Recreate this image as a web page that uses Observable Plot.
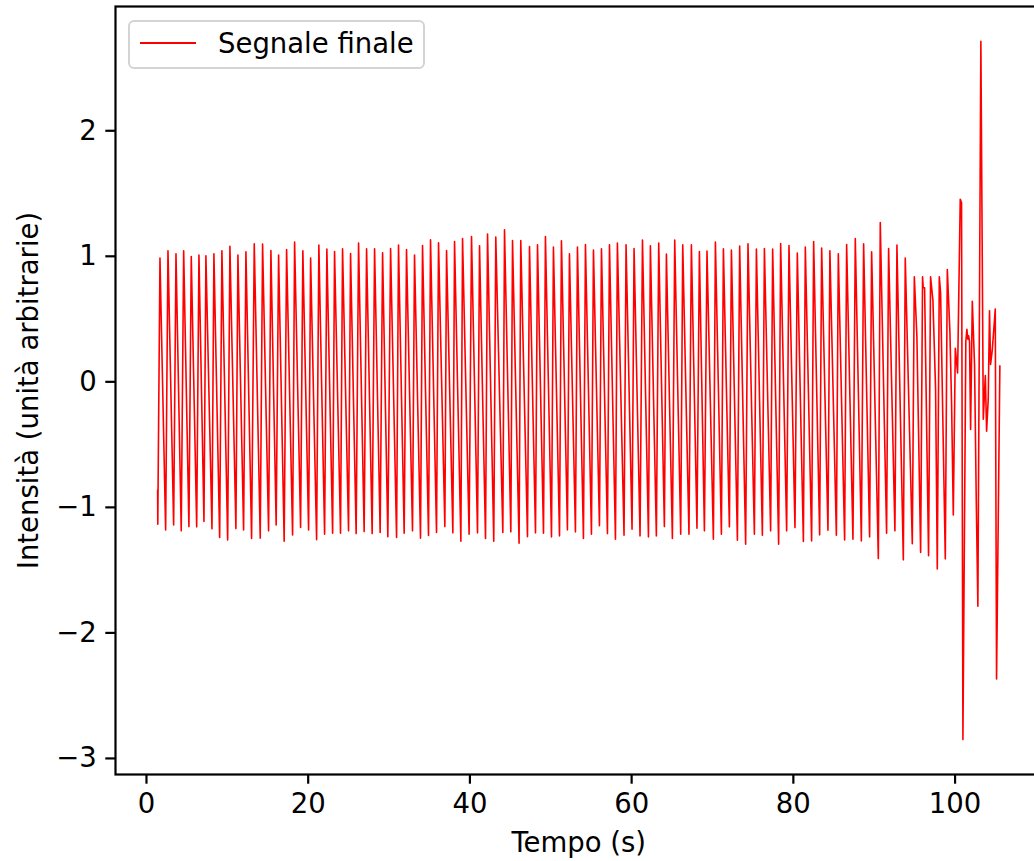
<!DOCTYPE html>
<html>
<head>
<meta charset="utf-8">
<script src="https://cdn.jsdelivr.net/npm/d3@7"></script>
<script src="https://cdn.jsdelivr.net/npm/@observablehq/plot@0.6"></script>
<style>
  html, body { margin: 0; padding: 0; background: white; overflow: hidden; }
  #wrap { position: relative; width: 1034px; height: 861px; }
  #legend {
    position: absolute; left: 128px; top: 20px; width: 293px; height: 45px;
    border: 2px solid #d4d4d4; border-radius: 6px; background: rgba(255,255,255,0.8);
    font-family: "DejaVu Sans", sans-serif; font-size: 27.5px; color: black;
  }
  #legend .sw { position: absolute; left: 10px; top: 20px; width: 56px; height: 1.6px; background: #ff0000; }
  #legend .lb { position: absolute; left: 88px; top: 4px; line-height: 34px; white-space: nowrap; }
</style>
</head>
<body>
<div id="wrap">
  <div id="chart"></div>
  <div id="legend"><div class="sw"></div><div class="lb">Segnale finale</div></div>
</div>
<script>
// Time (s) of each sample
const time = [
  1.38, 1.40, 1.67, 2.37, 2.66, 3.36, 3.65, 4.30, 4.60, 5.25, 5.54, 6.21, 6.49, 7.11, 7.35,
  8.10, 8.34, 9.05, 9.33, 10.04, 10.32, 11.06, 11.31, 12.01, 12.30, 13.00, 13.33, 14.07, 14.36,
  15.10, 15.39, 16.04, 16.34, 17.03, 17.33, 18.07, 18.32, 19.06, 19.34, 20.05, 20.30, 21.04, 21.32,
  22.03, 22.31, 23.02, 23.26, 24.00, 24.25, 24.99, 25.24, 25.93, 26.23, 26.92, 27.22, 27.91, 28.21,
  28.90, 29.20, 29.85, 30.19, 30.93, 31.17, 31.87, 32.16, 32.90, 33.15, 33.89, 34.14, 34.88, 35.13,
  35.87, 36.12, 36.90, 37.11, 37.89, 38.10, 38.88, 39.09, 39.90, 40.20, 40.94, 41.19, 41.93, 42.18,
  42.95, 43.20, 44.07, 44.28, 45.06, 45.27, 46.08, 46.29, 47.12, 47.37, 48.11, 48.36, 49.10, 49.34,
  50.09, 50.33, 51.08, 51.32, 52.06, 52.31, 53.05, 53.30, 54.04, 54.29, 55.03, 55.28, 56.02, 56.27,
  57.01, 57.26, 58.00, 58.24, 59.06, 59.31, 60.05, 60.30, 61.04, 61.34, 62.08, 62.32, 63.06, 63.35,
  64.05, 64.30, 65.04, 65.33, 66.07, 66.32, 67.09, 67.39, 68.08, 68.38, 69.00, 69.32, 70.11, 70.36,
  71.10, 71.35, 72.09, 72.34, 73.08, 73.36, 74.10, 74.39, 75.18, 75.43, 76.17, 76.42, 77.19, 77.44,
  78.18, 78.43, 79.17, 79.46, 80.20, 80.49, 81.24, 81.48, 82.26, 82.51, 83.25, 83.50, 84.28, 84.52,
  85.32, 85.56, 86.34, 86.59, 87.37, 87.66, 88.41, 88.69, 89.43, 89.68, 90.51, 90.75, 91.53, 91.78,
  92.56, 92.81, 93.60, 93.84, 94.71, 94.96, 95.28, 95.74, 95.98, 96.06, 96.23, 96.72, 96.97, 97.26,
  97.59, 97.80, 98.05, 98.21, 98.79, 99.04, 99.36, 99.57, 99.78, 100.03, 100.31, 100.64, 100.80,
  100.97, 101.33, 101.46, 101.58, 101.67, 101.79, 101.92, 102.13, 102.41, 102.62, 102.82, 103.19,
  103.49, 103.74, 103.90, 104.10, 104.26, 104.39, 104.60, 104.97, 105.13, 105.54
];
// Signal intensity (arbitrary units) at each sample
const signal = [
  -0.863, -1.134, 0.986, -1.18, 1.044, -1.14, 1.02, -1.187, 1.044, -1.153, 0.999, -1.155, 1.01, -1.113, 1.004,
  -1.171, 1.02, -1.24, 1.044, -1.259, 1.08, -1.169, 1.01, -1.18, 1.036, -1.248, 1.10, -1.245, 1.097,
  -1.187, 1.046, -1.14, 1.01, -1.27, 1.054, -1.22, 1.113, -1.16, 1.044, -1.18, 0.986, -1.257, 1.089,
  -1.214, 1.057, -1.206, 1.038, -1.206, 1.06, -1.187, 1.022, -1.209, 1.105, -1.193, 1.06, -1.209, 1.06,
  -1.2, 1.028, -1.233, 1.062, -1.24, 1.089, -1.206, 1.054, -1.187, 1.01, -1.245, 1.086, -1.224, 1.131,
  -1.2, 1.108, -1.153, 1.046, -1.203, 1.118, -1.27, 1.142, -1.214, 1.158, -1.203, 1.084, -1.248, 1.177,
  -1.27, 1.153, -1.2, 1.211, -1.195, 1.126, -1.285, 1.126, -1.233, 1.078, -1.203, 1.092, -1.206, 1.158,
  -1.235, 1.073, -1.227, 1.124, -1.179, 1.02, -1.195, 1.073, -1.248, 1.094, -1.214, 1.049, -1.147, 1.06,
  -1.209, 1.092, -1.254, 1.105, -1.222, 1.092, -1.174, 1.062, -1.227, 1.129, -1.235, 1.084, -1.227, 1.105,
  -1.153, 1.017, -1.248, 1.129, -1.214, 1.092, -1.214, 1.092, -1.166, 1.038, -1.187, 1.041, -1.254, 1.113,
  -1.214, 1.06, -1.155, 1.049, -1.261, 1.081, -1.293, 1.1, -1.214, 1.057, -1.222, 1.062, -1.187, 1.057,
  -1.293, 1.102, -1.187, 1.086, -1.161, 1.025, -1.272, 1.073, -1.267, 1.118, -1.219, 1.065, -1.182, 1.044,
  -1.222, 1.02, -1.259, 1.094, -1.254, 1.142, -1.267, 1.1, -1.235, 1.036, -1.408, 1.269, -1.206, 1.062,
  -1.187, 1.089, -1.418, 0.986, -1.29, 0.837, 0.36, -1.36, 0.837, 0.75, 0.75, -1.385, 0.837, 0.65,
  -0.06, -1.49, 0.837, 0.71, -1.41, 0.894, 0.40, -0.18, -1.06, 0.267, 0.07, 1.455, 1.426,
  -2.85, 0.321, 0.418, 0.34, 0.367, 0.321, -0.38, 0.642, 0.13, -0.94, -1.787, 2.712,
  -0.297, 0.051, -0.394, -0.14, 0.566, 0.139, 0.252, 0.58, -2.367, 0.127
];
const xTicks = [0, 20, 40, 60, 80, 100];
const yTicks = [-3, -2, -1, 0, 1, 2];
const xLabel = "Tempo (s)";
const yLabel = "Intensità (unità arbitrarie)";
const seriesName = "Segnale finale";

const data = time.map((t, i) => ({t, v: signal[i]}));

const chart = Plot.plot({
  width: 1034,
  height: 861,
  marginLeft: 115,
  marginRight: -7.5,
  marginTop: 6,
  marginBottom: 87,
  x: {domain: [-3.83, 110.75]},
  y: {domain: [-3.128, 2.99]},
  style: {fontFamily: "'DejaVu Sans', sans-serif", fontSize: "27.5px", color: "black", background: "white", overflow: "hidden"},
  marks: [
    Plot.line(data, {x: "t", y: "v", stroke: "#ff0000", strokeWidth: 1.6, curve: "linear"}),
    Plot.frame({stroke: "black", strokeWidth: 2.2}),
    Plot.axisX({ticks: xTicks, tickFormat: "d", tickSize: 9.7, tickPadding: 9, strokeWidth: 2.2, fontSize: 27.5,
      label: xLabel, labelAnchor: "center", labelArrow: "none", labelOffset: 77}),
    Plot.axisY({ticks: yTicks, tickFormat: "d", tickSize: 9.7, tickPadding: 9, strokeWidth: 2.2, fontSize: 27.5,
      label: yLabel, labelAnchor: "center", labelArrow: "none", labelOffset: 97})
  ]
});
document.getElementById("chart").appendChild(chart);
document.querySelector("#legend .lb").textContent = seriesName;
</script>
</body>
</html>
